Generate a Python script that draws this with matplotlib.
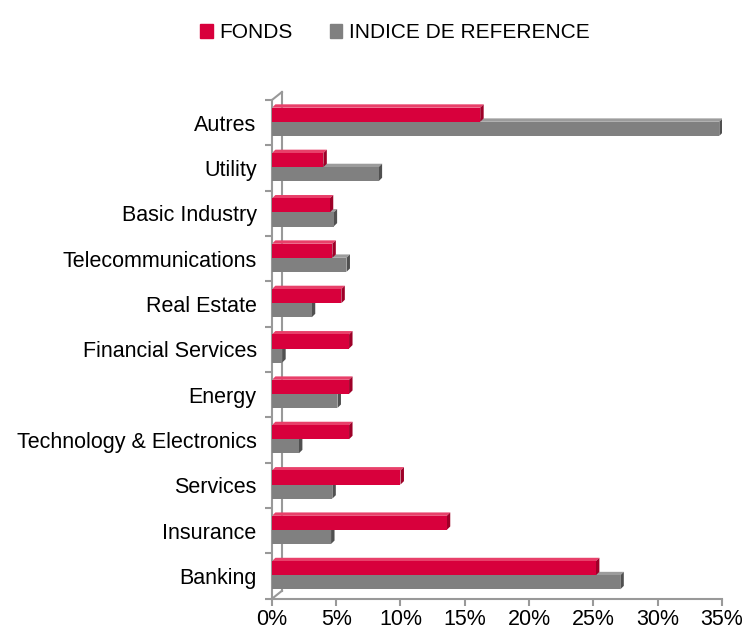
import numpy as np
import matplotlib
matplotlib.use("Agg")
from matplotlib import pyplot as plt
from matplotlib.patches import Polygon
import matplotlib.transforms as mtransforms

plt.rcParams['font.family'] = ['Liberation Sans', 'DejaVu Sans']

# donnees (de bas en haut)
categories = ['Banking', 'Insurance', 'Services', 'Technology & Electronics', 'Energy',
              'Financial Services', 'Real Estate', 'Telecommunications', 'Basic Industry',
              'Utility', 'Autres']
fonds = [25.2, 13.6, 10.0, 6.0, 6.0, 6.0, 5.4, 4.7, 4.5, 4.0, 16.2]
indice = [27.1, 4.6, 4.7, 2.1, 5.1, 0.8, 3.1, 5.8, 4.8, 8.3, 34.8]
xticks = [0, 5, 10, 15, 20, 25, 30, 35]

red = '#D8003C'
red_side = '#9E0028'
red_top = '#E8406A'
grey = '#808080'
grey_side = '#505050'
grey_top = '#9C9C9C'

fig = plt.figure(figsize=(7.45, 6.33), dpi=100)
ax = fig.add_axes([0.365, 0.054, 0.604, 0.788])

h = 0.31
dx = 0.27   # profondeur en % (axe x)
dy = 0.075  # profondeur en categories (axe y)
y = np.arange(len(categories))


def bar3d(vals, yc, face, side, top):
    for v, c in zip(vals, yc):
        y0, y1 = c - h / 2, c + h / 2
        ax.add_patch(Polygon([(0, y1), (v, y1), (v + dx, y1 + dy), (dx, y1 + dy)],
                             closed=True, facecolor=top, edgecolor='none', zorder=2))
        ax.add_patch(Polygon([(v, y0), (v + dx, y0 + dy), (v + dx, y1 + dy), (v, y1)],
                             closed=True, facecolor=side, edgecolor='none', zorder=2))
        ax.barh(c, v, height=h, color=face, edgecolor='none', zorder=3)


bar3d(indice, y - h / 2 + 0.02, grey, grey_side, grey_top)
bar3d(fonds, y + h / 2 + 0.02, red, red_side, red_top)

ax.set_xlim(0, 35)
ax.set_ylim(-0.5, len(categories) - 0.5)
ax.set_xticks(xticks)
ax.set_xticklabels(['%d%%' % t for t in xticks])
ax.set_yticks(y)
ax.set_yticklabels(categories)
ax.set_yticks(np.arange(-0.5, len(categories), 1), minor=True)
ax.tick_params(axis='y', which='major', length=0, pad=11, labelsize=15.5)
ax.tick_params(axis='y', which='minor', length=5, color='#999999', width=1.5)
ax.tick_params(axis='x', length=5, color='#999999', width=1.5, labelsize=15.5, pad=2)

for s in ['top', 'right']:
    ax.spines[s].set_visible(False)
for s in ['left', 'bottom']:
    ax.spines[s].set_color('#999999')
    ax.spines[s].set_linewidth(1.5)

# paroi du fond
off = mtransforms.ScaledTranslation(10 / 100, 8 / 100, fig.dpi_scale_trans)
tr = ax.transAxes + off
ax.plot([0, 0], [0, 1], transform=tr, color='#999999', lw=1.5, clip_on=False, zorder=1)
p0 = ax.transAxes.transform((0, 0))
p1 = ax.transAxes.transform((0, 1))
inv = fig.transFigure.inverted()
for p in (p0, p1):
    a = inv.transform(p)
    b = inv.transform(p + np.array([10, 8]))
    fig.add_artist(plt.Line2D([a[0], b[0]], [a[1], b[1]], color='#999999', lw=1.5))

# legende
hf = plt.Rectangle((0, 0), 1, 1, color=red)
hi = plt.Rectangle((0, 0), 1, 1, color=grey)
fig.legend([hf, hi], ['FONDS', 'INDICE DE REFERENCE'], loc='center',
           bbox_to_anchor=(0.53, 0.948), ncol=2, frameon=False, fontsize=15,
           handlelength=0.6, handleheight=0.6, handletextpad=0.3, columnspacing=1.8)

plt.savefig('out.png', dpi=100)
